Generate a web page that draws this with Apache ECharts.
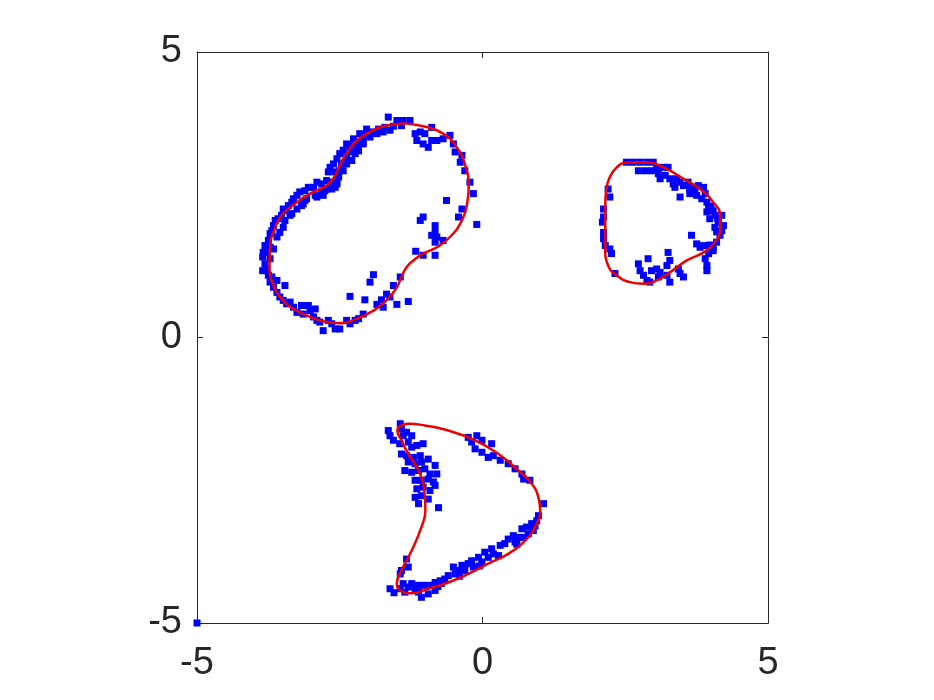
<!DOCTYPE html>
<html>
<head>
<meta charset="utf-8">
<title>scatter contours</title>
<script src="https://cdn.jsdelivr.net/npm/echarts@6/dist/echarts.min.js"></script>
<style>
  html, body { margin: 0; padding: 0; background: #fff; }
  #chart { width: 934px; height: 700px; }
</style>
</head>
<body>
<div id="chart"></div>
<script>
// axis range and tick labels
const axisMin = -5;
const axisMax = 5;
const tickStep = 5;

// blue samples, upper-left blob
const pointsA = [
  [-1.65,3.86],[-1.50,3.80],[-1.39,3.80],[-1.27,3.80],[-1.42,3.71],[-1.56,3.70],[-1.71,3.68],[-1.82,3.65],
  [-1.91,3.60],[-2.03,3.65],[-2.06,3.54],[-2.15,3.57],[-2.17,3.42],[-2.26,3.48],[-2.32,3.36],[-2.38,3.39],
  [-2.44,3.28],[-2.50,3.22],[-2.38,3.16],[-2.32,3.10],[-2.47,3.04],[-2.55,3.13],[-2.61,3.04],[-2.67,2.98],
  [-2.70,2.90],[-2.58,2.90],[-2.52,2.81],[-2.64,2.72],[-2.73,2.75],[-2.82,2.69],[-2.90,2.72],[-2.96,2.63],
  [-3.05,2.63],[-3.11,2.57],[-3.20,2.55],[-3.25,2.49],[-3.31,2.43],[-3.34,2.37],[-3.40,2.31],[-3.43,2.22],
  [-3.49,2.25],[-3.52,2.14],[-3.58,2.08],[-3.63,2.05],[-3.66,1.96],[-3.69,1.87],[-3.72,1.82],[-3.75,1.70],
  [-3.81,1.61],[-3.84,1.49],[-3.85,1.41],[-3.81,1.29],[-3.85,1.17],[-3.72,1.38],[-3.66,1.55],[-3.60,1.76],
  [-3.55,1.84],[-3.49,1.93],[-3.37,2.14],[-3.25,2.25],[-3.14,2.34],[-3.08,2.43],[-2.90,2.46],[-2.79,2.49],
  [-2.76,2.57],[-2.64,2.60],[-2.55,2.69],[-2.50,2.92],[-2.41,3.07],[-2.32,3.25],[-2.20,3.33],[-2.09,3.42],
  [-1.97,3.51],[-1.85,3.57],[-1.74,3.60],[-1.62,3.63],
  [-3.46,2.05],[-3.34,2.17],[-3.17,2.31],[-3.11,2.40],[-2.93,2.49],[-2.82,2.54],[-2.73,2.60],[-2.58,2.63],
  [-2.55,2.72],[-2.52,2.84],[-2.44,2.92],[-2.38,3.04],[-2.29,3.10],[-2.23,3.22],[-2.17,3.27],[-2.09,3.39],
  [-1.18,3.57],[-1.09,3.60],[-1.01,3.57],[-1.15,3.45],[-1.04,3.39],[-0.95,3.33],[-0.89,3.45],[-0.80,3.45],
  [-0.89,3.68],[-0.69,3.48],[-0.57,3.54],[-0.51,3.39],[-0.48,3.25],[-0.36,3.19],[-0.39,3.07],[-0.31,2.92],
  [-0.22,2.72],[-0.16,2.52],[-0.36,2.25],[-0.42,2.11],[-0.10,1.98],[-0.63,2.40],[-1.04,2.11],[-1.09,2.05],
  [-0.83,1.96],[-0.83,1.84],[-0.89,1.79],[-0.80,1.76],[-0.83,1.67],[-0.69,1.70],[-0.83,1.44],[-1.04,1.44],
  [-1.17,1.51],[-1.44,1.06],[-1.91,1.10],[-1.97,0.97],[-2.32,0.72],[-2.06,0.66],[-1.85,0.58],[-1.77,0.66],
  [-1.68,0.76],[-1.62,0.71],[-1.50,0.58],[-1.30,0.63],[-1.56,0.91],[-1.74,0.53],
  [-3.75,1.09],[-3.72,0.97],[-3.66,0.88],[-3.60,0.79],[-3.55,0.71],[-3.46,0.91],[-3.49,0.65],[-3.43,0.59],
  [-3.37,0.62],[-3.31,0.53],[-3.25,0.44],[-3.17,0.56],[-3.14,0.41],[-3.05,0.56],[-3.02,0.47],[-2.93,0.50],
  [-2.96,0.36],[-2.90,0.30],[-2.85,0.27],[-2.79,0.12],[-2.70,0.30],[-2.64,0.24],[-2.58,0.15],[-2.50,0.15],
  [-2.38,0.30],[-2.32,0.24],[-2.23,0.30],[-2.17,0.33],[-2.09,0.41],[-3.60,1.00],[-3.69,1.06],[-3.78,1.20],
  [-3.72,1.58],[-3.78,1.49]
];

// blue samples, right blob
const pointsB = [
  [2.52,3.07],[2.64,3.07],[2.76,3.07],[2.88,3.07],[2.99,3.07],[2.73,2.92],[2.85,2.92],[2.96,2.92],
  [3.05,2.98],[3.17,2.98],[3.25,2.98],[3.08,2.87],[3.20,2.84],[3.11,2.78],[3.28,2.78],[3.34,2.69],
  [3.46,2.72],[3.37,2.63],[3.52,2.66],[3.60,2.72],[3.63,2.60],[3.69,2.63],[3.78,2.66],[3.87,2.63],
  [3.63,2.52],[3.75,2.49],[3.84,2.43],[3.93,2.37],[3.46,2.46],[3.90,2.52],[3.96,2.28],[4.04,2.22],
  [3.93,2.20],[4.07,2.14],[4.19,2.14],[3.98,2.08],[4.13,2.02],[4.22,1.96],[4.07,1.93],[4.19,1.87],
  [4.16,1.79],[4.10,1.67],[4.04,1.58],[3.96,1.47],[4.04,1.52],[3.75,1.64],[3.81,1.58],[3.87,1.61],
  [3.90,1.38],[3.93,1.26],[3.93,1.17],[3.66,1.79],
  [3.40,2.78],[3.72,2.55],[4.00,2.30],[4.12,2.08],[4.10,1.85],[3.98,1.62],
  [2.20,2.60],[2.23,2.46],[2.12,2.25],[2.12,2.11],[2.10,2.02],[2.12,1.84],[2.12,1.73],[2.15,1.61],
  [2.23,1.55],[2.26,1.47],[2.32,1.12],[2.73,1.29],[2.76,1.17],[2.82,1.09],[2.88,1.00],[2.93,0.97],
  [2.96,1.17],[3.05,1.20],[3.08,1.06],[3.11,1.14],[3.23,1.09],[3.28,0.97],[3.25,1.49],[3.28,1.35],
  [3.23,1.26],[3.43,1.20],[3.46,1.12],[3.52,1.06],[2.90,1.38]
];

// blue samples, lower crescent
const pointsC = [
  [-1.65,-1.63],[-1.62,-1.72],[-1.56,-1.80],[-1.44,-1.51],[-1.42,-1.60],[-1.33,-1.66],[-1.39,-1.72],[-1.24,-1.72],
  [-1.45,-1.86],[-1.30,-1.83],[-1.24,-1.92],[-1.15,-1.89],[-1.04,-1.86],[-1.42,-2.04],[-1.33,-2.07],[-1.21,-2.10],
  [-1.09,-2.07],[-1.30,-2.18],[-1.18,-2.21],[-1.07,-2.18],[-0.95,-2.13],[-0.83,-2.24],[-1.36,-2.33],[-1.24,-2.36],
  [-1.12,-2.33],[-1.01,-2.30],[-0.92,-2.39],[-0.80,-2.39],[-1.18,-2.50],[-1.07,-2.50],[-0.95,-2.48],[-0.86,-2.53],
  [-1.15,-2.65],[-1.04,-2.62],[-0.92,-2.68],[-0.83,-2.59],[-1.18,-2.80],[-1.07,-2.77],[-1.12,-2.91],[-0.77,-2.98],
  [-0.95,-2.83],
  [-0.25,-1.75],[-0.10,-1.72],[-0.19,-1.83],[-0.01,-1.80],[0.16,-1.86],[-0.13,-1.95],[-0.01,-2.01],[0.10,-2.10],
  [0.19,-2.07],[0.31,-2.15],[0.45,-2.21],[0.57,-2.30],[0.69,-2.39],[0.72,-2.48],[0.83,-2.50],[1.07,-2.91],
  [0.98,-3.12],[0.95,-3.21],[0.86,-3.26],[0.77,-3.32],[0.69,-3.35],[0.89,-3.38],[0.80,-3.44],[0.72,-3.50],
  [0.63,-3.50],[0.54,-3.47],[0.45,-3.53],[0.57,-3.58],[0.39,-3.61],[0.31,-3.64],[0.16,-3.70],[0.04,-3.76],
  [0.19,-3.79],[0.10,-3.85],[-0.07,-3.85],[-0.01,-3.93],[-0.19,-3.91],[-0.25,-3.96],[-0.36,-3.99],[-0.16,-4.02],
  [-0.31,-4.08],[-0.42,-4.08],[-0.51,-4.02],[-0.48,-4.14],[-0.60,-4.17],[-0.66,-4.23],[-0.74,-4.26],[-0.83,-4.29],
  [-0.72,-4.31],[-0.89,-4.34],[-1.01,-4.34],[-1.12,-4.34],[-1.18,-4.40],[-1.30,-4.37],[-1.36,-4.46],[-1.44,-4.40],
  [-1.62,-4.40],[-1.12,-4.46],[-1.07,-4.55],[-0.95,-4.49],[-0.83,-4.43],[-1.24,-4.31],[-1.39,-4.31],[-1.44,-4.14],
  [-1.33,-3.88],[-1.30,-4.02],[-1.42,-4.08],
  [0.92,-3.30],[0.60,-3.62],[0.28,-3.82],[-0.05,-4.00],[-0.40,-4.18],[-0.78,-4.36],[-1.55,-4.47]
];

// stray sample in the corner
const pointsStray = [[-5,-5]];

// red contours (closed)
const curveA = [
  [-1.39,3.75],[-1.04,3.70],[-0.69,3.57],[-0.45,3.33],[-0.31,3.04],[-0.24,2.69],[-0.27,2.34],[-0.36,2.05],
  [-0.57,1.76],[-0.80,1.58],[-1.04,1.47],[-1.21,1.35],[-1.33,1.23],[-1.42,1.06],[-1.50,0.88],[-1.68,0.65],
  [-1.91,0.47],[-2.20,0.33],[-2.50,0.25],[-2.73,0.27],[-3.02,0.36],[-3.31,0.50],[-3.52,0.68],[-3.66,0.91],
  [-3.73,1.23],[-3.72,1.58],[-3.63,1.93],[-3.49,2.17],[-3.25,2.37],[-2.96,2.55],[-2.73,2.66],[-2.58,2.84],
  [-2.50,3.01],[-2.38,3.22],[-2.20,3.45],[-1.97,3.60],[-1.74,3.70],[-1.39,3.75]
];
const curveB = [
  [2.64,3.07],[2.88,3.07],[3.17,2.98],[3.52,2.78],[3.81,2.60],[4.04,2.37],[4.16,2.14],[4.16,1.90],
  [4.07,1.67],[3.87,1.49],[3.58,1.35],[3.28,1.14],[3.05,1.00],[2.82,0.94],[2.58,0.97],[2.35,1.09],
  [2.20,1.26],[2.15,1.55],[2.15,1.96],[2.15,2.31],[2.17,2.60],[2.23,2.81],[2.35,2.98],[2.50,3.06],
  [2.64,3.07]
];
const curveC = [
  [-1.47,-1.57],[-1.30,-1.51],[-1.01,-1.54],[-0.60,-1.63],[-0.13,-1.80],[0.28,-2.04],[0.63,-2.33],[0.86,-2.56],
  [0.98,-2.80],[1.01,-3.03],[0.92,-3.32],[0.74,-3.56],[0.45,-3.79],[0.10,-3.96],[-0.25,-4.14],[-0.60,-4.29],
  [-0.95,-4.40],[-1.24,-4.48],[-1.44,-4.43],[-1.50,-4.31],[-1.42,-4.08],[-1.24,-3.73],[-1.07,-3.32],[-1.00,-3.03],
  [-1.02,-2.68],[-1.12,-2.33],[-1.30,-2.04],[-1.42,-1.80],[-1.49,-1.63],[-1.47,-1.57]
];

const textColor = '#262626';
const labelFont = {
  color: textColor,
  fontSize: 38,
  fontFamily: 'Liberation Sans, Arial, sans-serif'
};

const makeAxis = (position, showLabel, margin) => ({
  type: 'value',
  position: position,
  min: axisMin,
  max: axisMax,
  interval: tickStep,
  axisLine: { show: true, onZero: false, lineStyle: { color: textColor, width: 1 } },
  axisTick: { show: true, inside: true, length: 6, lineStyle: { color: textColor, width: 1 } },
  axisLabel: Object.assign({ show: showLabel, margin: margin }, labelFont),
  splitLine: { show: false }
});

const scatterSeries = (data) => ({
  type: 'scatter',
  data: data,
  symbol: 'rect',
  symbolSize: 7,
  itemStyle: { color: '#0000ff', opacity: 1 },
  silent: true,
  z: 2
});

const curveSeries = (data) => ({
  type: 'line',
  data: data,
  smooth: 0.5,
  showSymbol: false,
  lineStyle: { color: '#ee0000', width: 2.5 },
  silent: true,
  z: 3
});

const chart = echarts.init(document.getElementById('chart'));
chart.setOption({
  backgroundColor: '#ffffff',
  animation: false,
  grid: { left: 197, top: 52, width: 571, height: 571, containLabel: false },
  xAxis: [makeAxis('bottom', true, 22), makeAxis('top', false, 8)],
  yAxis: [makeAxis('left', true, 15), makeAxis('right', false, 8)],
  series: [
    scatterSeries(pointsA),
    scatterSeries(pointsB),
    scatterSeries(pointsC),
    scatterSeries(pointsStray),
    curveSeries(curveA),
    curveSeries(curveB),
    curveSeries(curveC)
  ]
});
</script>
</body>
</html>
